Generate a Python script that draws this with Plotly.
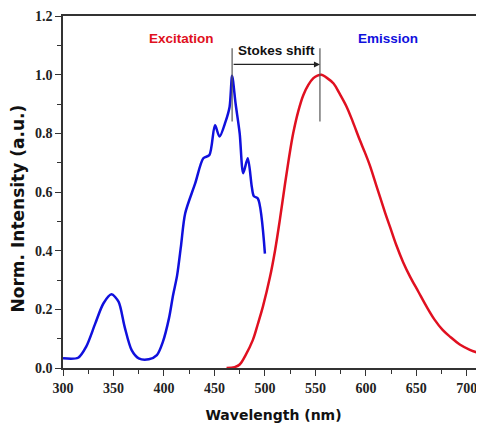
import plotly.graph_objects as go

# Excitation spectrum (blue)
exc_nm = [300, 315, 323, 332, 340, 348, 355, 361, 368, 375, 385, 393, 399, 405, 409, 413, 417, 421,
          431, 439, 445, 450.5, 455, 461, 465, 467.5, 471, 475, 478.5, 483, 487, 489, 493, 500]
exc_val = [0.033, 0.035, 0.073, 0.152, 0.22, 0.251, 0.226, 0.141, 0.061, 0.033, 0.030, 0.044, 0.09,
           0.17, 0.248, 0.315, 0.42, 0.527, 0.63, 0.715, 0.726, 0.828, 0.789, 0.84, 0.89, 0.996,
           0.90, 0.80, 0.664, 0.715, 0.618, 0.586, 0.578, 0.39]

# Emission spectrum (red)
em_nm = [462, 470, 475, 481, 488, 493, 498, 505, 510, 515, 520, 524, 528, 533, 538, 543, 548, 552,
         556, 561, 568, 574, 581, 587, 594, 599, 604, 611, 619, 624, 630, 637, 644, 652, 660, 668,
         676, 684, 693, 703, 717]
em_val = [0.0, 0.003, 0.012, 0.045, 0.095, 0.15, 0.209, 0.31, 0.40, 0.51, 0.63, 0.72, 0.80, 0.875,
          0.93, 0.965, 0.988, 0.997, 1.0, 0.99, 0.97, 0.935, 0.89, 0.84, 0.777, 0.735, 0.69, 0.615,
          0.53, 0.48, 0.42, 0.36, 0.31, 0.26, 0.21, 0.165, 0.13, 0.105, 0.08, 0.062, 0.045]

x_ticks = [300, 350, 400, 450, 500, 550, 600, 650, 700]
y_ticks = [0.0, 0.2, 0.4, 0.6, 0.8, 1.0, 1.2]

exc_peak = 467.5
em_peak = 554.5

fig = go.Figure()
fig.add_trace(go.Scatter(x=exc_nm, y=exc_val, mode="lines",
                         line=dict(color="#1010dd", width=2.5, shape="spline", smoothing=0.8),
                         showlegend=False))
fig.add_trace(go.Scatter(x=em_nm, y=em_val, mode="lines",
                         line=dict(color="#e01020", width=2.5, shape="spline", smoothing=1.0),
                         showlegend=False))

for xv in (exc_peak, em_peak):
    fig.add_shape(type="line", x0=xv, x1=xv, y0=0.84, y1=1.09, xref="x", yref="y",
                  line=dict(color="#555555", width=1.2))

fig.add_annotation(x=em_peak, y=1.035, ax=exc_peak, ay=1.035, xref="x", yref="y",
                   axref="x", ayref="y", showarrow=True, arrowhead=2, arrowsize=1,
                   arrowwidth=1.2, arrowcolor="#222222", standoff=0, startstandoff=0, text="")

ann_font = dict(family="Liberation Sans, Arial, sans-serif", size=13.5)
fig.add_annotation(x=417.8, y=1.125, text="<b>Excitation</b>", showarrow=False,
                   font=dict(color="#e01020", **ann_font))
fig.add_annotation(x=511.9, y=1.084, text="<b>Stokes shift</b>", showarrow=False,
                   font=dict(color="#111111", **ann_font))
fig.add_annotation(x=621.8, y=1.125, text="<b>Emission</b>", showarrow=False,
                   font=dict(color="#1010dd", **ann_font))

tick_font = dict(family="Liberation Serif, Times New Roman, serif", size=14, color="#222222")
title_family = "DejaVu Sans, Verdana, sans-serif"

# y-axis title (placed slightly below the plot's centre, as in the reference)
fig.add_annotation(xref="paper", yref="paper", x=-0.108, y=0.452, text="<b>Norm. Intensity (a.u.)</b>",
                   textangle=-90, showarrow=False, xanchor="center", yanchor="middle",
                   font=dict(family=title_family, size=17, color="#111111"))

# page body has an 8px default margin, so the figure is 8px smaller on each axis
fig.update_layout(
    width=476, height=417,
    margin=dict(l=55, r=0, t=8, b=57, autoexpand=False),
    paper_bgcolor="white", plot_bgcolor="white",
    xaxis=dict(range=[300, 717], tickvals=x_ticks, ticktext=[f"<b>{v}</b>" for v in x_ticks],
               ticks="outside", ticklen=6, tickwidth=1.3, tickcolor="#333333",
               minor=dict(dtick=25, ticks="outside", ticklen=4, tickwidth=1.2, tickcolor="#333333"),
               showline=True, linecolor="#333333", linewidth=1.5, mirror=True,
               showgrid=False, zeroline=False, tickfont=tick_font, automargin=False,
               title=dict(text="<b>Wavelength (nm)</b>",
                          font=dict(family=title_family, size=14, color="#111111"), standoff=16)),
    yaxis=dict(range=[0, 1.2], tickvals=y_ticks, ticktext=[f"<b>{v:.1f}</b>" for v in y_ticks],
               ticks="outside", ticklen=6, tickwidth=1.3, tickcolor="#333333",
               minor=dict(dtick=0.1, ticks="outside", ticklen=4, tickwidth=1.2, tickcolor="#333333"),
               showline=True, linecolor="#333333", linewidth=1.5,
               showgrid=False, zeroline=False, tickfont=tick_font, automargin=False),
)

fig.write_html("out.html")
